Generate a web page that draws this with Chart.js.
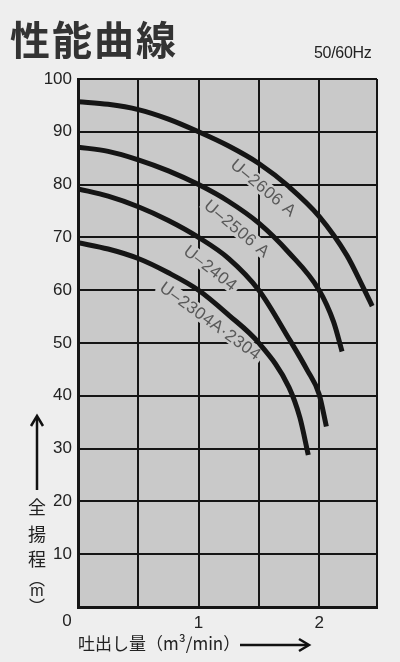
<!DOCTYPE html>
<html>
<head>
<meta charset="utf-8">
<script src="https://cdn.jsdelivr.net/npm/chart.js@4"></script>
<style>
  html, body { margin: 0; padding: 0; background: #eeeeee; }
  body { width: 400px; height: 662px; position: relative; overflow: hidden; font-family: "Noto Sans CJK JP", sans-serif; }
  #chart { position: absolute; left: 0; top: 0; }
  .title { position: absolute; left: 10px; top: 18px; font-size: 40px; font-weight: bold; color: #333; letter-spacing: 2px; line-height: 1; }
  .hz { position: absolute; left: 314px; top: 44px; font-family: "Liberation Sans", sans-serif; font-size: 16px; color: #222; letter-spacing: -0.3px; }
  .yt { position: absolute; left: 27px; width: 20px; text-align: center; font-size: 18px; color: #222; line-height: 1; }
  .xtitle { position: absolute; left: 78px; top: 634px; font-size: 17px; color: #222; white-space: nowrap; line-height: 1; }
  svg { position: absolute; left: 0; top: 0; }
</style>
</head>
<body>
<canvas id="chart" width="400" height="662"></canvas>
<div class="title">性能曲線</div>
<div class="hz">50/60Hz</div>
<div class="yt" style="top:497px">全</div>
<div class="yt" style="top:524px">揚</div>
<div class="yt" style="top:549px">程</div>
<div class="yt" style="top:570px;font-size:16px">︵</div>
<div class="yt" style="top:583px;font-size:16px;font-family:'Liberation Sans',sans-serif">m</div>
<div class="yt" style="top:597px;font-size:16px">︶</div>
<div class="xtitle">吐出し量（m³/min）</div>
<svg width="400" height="662">
  <line x1="37" y1="490" x2="37" y2="418" stroke="#111" stroke-width="2.5"/>
  <polyline points="31,426 37,416 43,426" fill="none" stroke="#111" stroke-width="2.5"/>
  <line x1="240" y1="645" x2="308" y2="645" stroke="#111" stroke-width="2.5"/>
  <polyline points="299,639 309,645 299,651" fill="none" stroke="#111" stroke-width="2.5"/>
</svg>
<script>
// flow (m3/min) and total head (m)
const flowU2606 = [0, 0.25, 0.5, 0.75, 1, 1.25, 1.5, 1.75, 2, 2.23, 2.37, 2.44];
const headU2606 = [95.7, 95.2, 94.2, 92.4, 90, 87.3, 84.0, 79.6, 74.0, 66.6, 60.3, 57.0];
const flowU2506 = [0, 0.25, 0.5, 0.75, 1, 1.25, 1.5, 1.75, 2, 2.12, 2.19];
const headU2506 = [87.1, 86.3, 84.7, 82.6, 80, 76.8, 72.7, 67.1, 60, 54.0, 48.4];
const flowU2404 = [0, 0.25, 0.5, 0.75, 1, 1.25, 1.5, 1.75, 1.9, 2, 2.06];
const headU2404 = [79.2, 77.8, 75.8, 73.2, 70, 66.0, 60, 50.8, 44.9, 40.3, 34.2];
const flowU2304 = [0, 0.25, 0.5, 0.75, 1, 1.25, 1.5, 1.75, 1.84, 1.91];
const headU2304 = [69, 67.8, 66, 63.3, 60, 55.3, 50, 41.6, 35.9, 28.8];

const seriesNames = ['U–2606 A', 'U–2506 A', 'U–2404', 'U–2304A·2304'];
const xTicks = [0, 0.5, 1, 1.5, 2];
const xMax = 2.48;
const yTicks = [0, 10, 20, 30, 40, 50, 60, 70, 80, 90, 100];

// where each curve name sits (data coords) and its slant
const labelSpots = [
  { x: 1.54, y: 79.4, angle: 40 },
  { x: 1.32, y: 71.7, angle: 40 },
  { x: 1.10, y: 64.2, angle: 38 },
  { x: 1.10, y: 54.2, angle: 36 }
];

const PLOT_BG = '#c9c9c9';
const INK = '#151515';
const TICK_FONT = { family: '"Liberation Sans", Arial, sans-serif', size: 17 };

function pts(xs, ys) {
  return xs.map((x, i) => ({ x: x, y: ys[i] }));
}

const curves = [
  pts(flowU2606, headU2606),
  pts(flowU2506, headU2506),
  pts(flowU2404, headU2404),
  pts(flowU2304, headU2304)
];

const plotBg = {
  id: 'plotBg',
  beforeDraw(chart) {
    const a = chart.chartArea, c = chart.ctx;
    c.save();
    c.fillStyle = PLOT_BG;
    c.fillRect(a.left, a.top, a.right - a.left, a.bottom - a.top);
    c.restore();
  }
};

const curveLabels = {
  id: 'curveLabels',
  beforeDatasetsDraw(chart) {
    const c = chart.ctx, sx = chart.scales.x, sy = chart.scales.y;
    c.save();
    c.font = '17px "Liberation Sans", Arial, sans-serif';
    c.letterSpacing = '0.5px';
    c.textAlign = 'center';
    c.textBaseline = 'middle';
    labelSpots.forEach((s, i) => {
      const px = sx.getPixelForValue(s.x), py = sy.getPixelForValue(s.y);
      const w = c.measureText(seriesNames[i]).width;
      c.save();
      c.translate(px, py);
      c.rotate(s.angle * Math.PI / 180);
      c.fillStyle = PLOT_BG;
      c.fillRect(-w / 2 - 3, -8, w + 6, 16);
      c.fillStyle = '#595959';
      c.fillText(seriesNames[i], 0, 1);
      c.restore();
    });
    c.restore();
  },
  afterDraw(chart) {
    // shared origin label, set off to the lower left
    const c = chart.ctx, sx = chart.scales.x, a = chart.chartArea;
    c.save();
    c.font = '17px "Liberation Sans", Arial, sans-serif';
    c.fillStyle = '#222';
    c.textAlign = 'center';
    c.textBaseline = 'top';
    c.fillText('0', sx.getPixelForValue(0) - 11, a.bottom + 6);
    c.restore();
  }
};

new Chart(document.getElementById('chart'), {
  type: 'line',
  data: {
    datasets: curves.map((d, i) => ({
      label: seriesNames[i],
      data: d,
      borderColor: INK,
      borderWidth: 5,
      pointRadius: 0,
      fill: false,
      cubicInterpolationMode: 'monotone'
    }))
  },
  options: {
    responsive: false,
    animation: false,
    events: [],
    layout: { padding: { left: 28, top: 79, right: 23, bottom: 0 } },
    plugins: {
      legend: { display: false },
      tooltip: { enabled: false }
    },
    scales: {
      x: {
        type: 'linear',
        min: 0,
        max: xMax,
        afterBuildTicks: s => { s.ticks = xTicks.concat([xMax]).map(v => ({ value: v })); },
        afterFit: s => { s.height = 55; },
        grid: { color: INK, lineWidth: 2, drawTicks: false },
        border: { color: INK, width: 3 },
        ticks: {
          padding: 6,
          color: '#222',
          font: TICK_FONT,
          maxRotation: 0,
          autoSkip: false,
          callback: v => (v === 1 || v === 2) ? String(v) : ''
        }
      },
      y: {
        min: 0,
        max: 100,
        afterBuildTicks: s => { s.ticks = yTicks.map(v => ({ value: v })); },
        afterFit: s => { s.width = 50; },
        grid: { color: INK, lineWidth: 2, drawTicks: false },
        border: { color: INK, width: 3 },
        ticks: {
          padding: 6,
          color: '#222',
          font: TICK_FONT,
          autoSkip: false,
          callback: v => v === 0 ? '' : String(v)
        }
      }
    }
  },
  plugins: [plotBg, curveLabels]
});
</script>
</body>
</html>
